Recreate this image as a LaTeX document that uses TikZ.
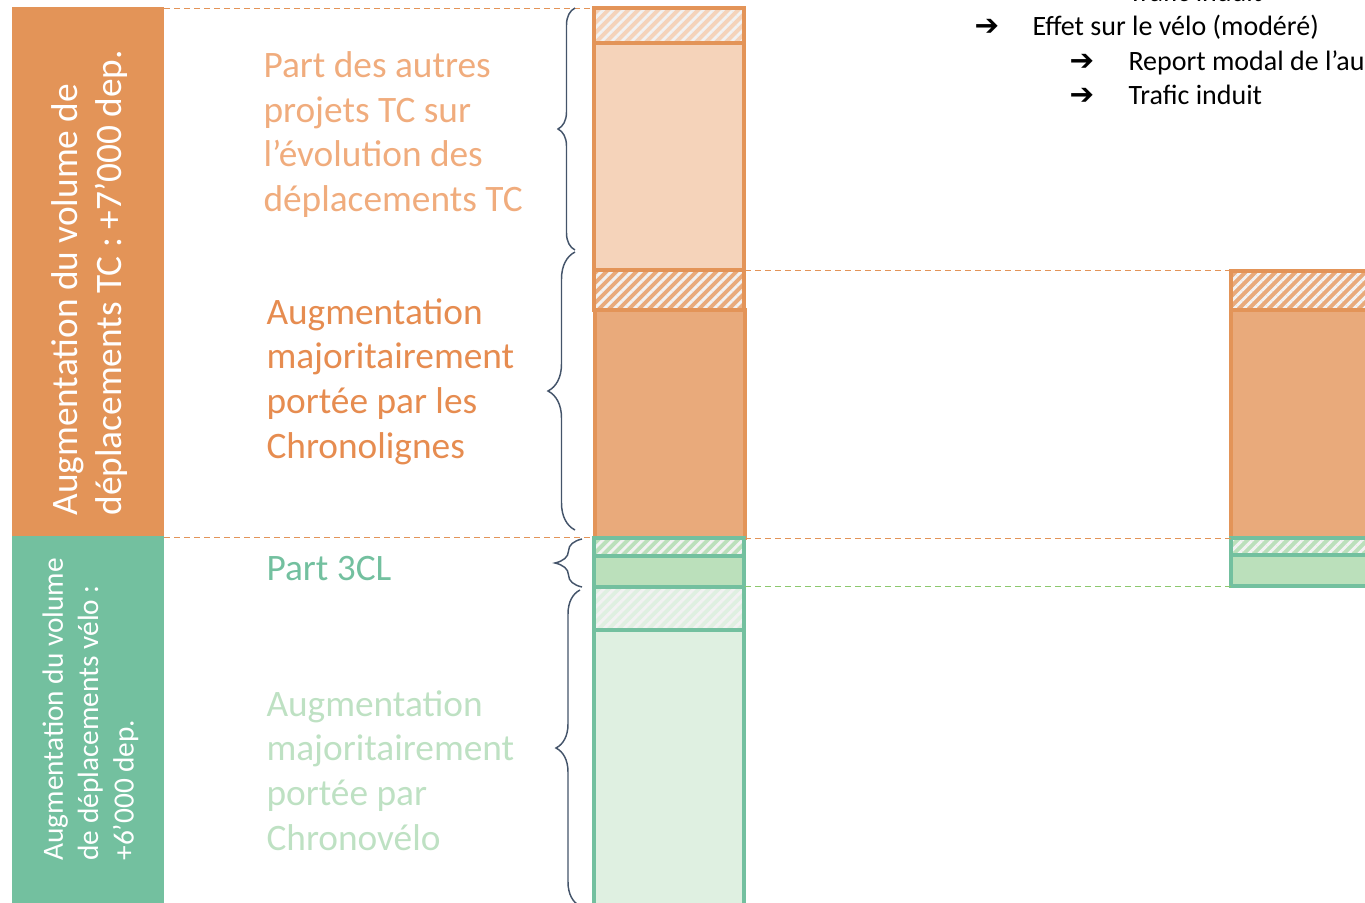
\documentclass[tikz,border=0pt]{standalone}
\usepackage{fontspec}
\setmainfont{Carlito}
\newfontfamily\arrowfont{DejaVu Sans Bold}
\usetikzlibrary{patterns.meta,decorations.pathreplacing}

\definecolor{tcdark}{RGB}{227,148,88}
\definecolor{tcmid}{RGB}{233,170,123}
\definecolor{tcpale}{RGB}{245,211,186}
\definecolor{tctext}{RGB}{230,140,80}
\definecolor{tcpaletext}{RGB}{240,172,125}
\definecolor{velodark}{RGB}{115,192,159}
\definecolor{velomid}{RGB}{187,224,187}
\definecolor{velopale}{RGB}{223,240,225}
\definecolor{velopaletext}{RGB}{190,225,195}
\definecolor{velodash}{RGB}{140,200,110}
\definecolor{bracecol}{RGB}{68,84,106}
\definecolor{stripe}{RGB}{242,242,242}

\tikzset{every picture/.style={line width=0.75pt}}
\tikzset{
  tcbar/.style={draw=tcdark, line width=2.3pt},
  velobar/.style={draw=velodark, line width=2.3pt},
  hatch/.style={pattern={Lines[angle=45,distance=5.3pt,line width=2.2pt]}, pattern color=stripe},
  tcdash/.style={draw=tcdark, dash pattern=on 4.5pt off 3pt},
  velodash/.style={draw=velodash, dash pattern=on 4.5pt off 3pt},
  bracemark/.style={draw=bracecol, line width=1.1pt, decorate},
  sidelabel/.style={anchor=north west, inner sep=0pt, align=left, rotate=90, text=white},
  midlabel/.style={anchor=north west, inner sep=0pt, align=left},
  notelabel/.style={anchor=base west, inner sep=0pt}
}

\begin{document}
\begin{tikzpicture}[x=0.75pt,y=0.75pt,yscale=-1,xscale=1]
	\useasboundingbox (0,0) rectangle (1365,903);
	
	%Shape: Rectangle [side panels]
	\fill [tcdark] (12,7) rectangle (164,536);
	\fill [velodark] (12,536) rectangle (164,910);
	
	%Shape: Rectangle [bar left]
	\draw [tcbar, preaction={fill=tcpale}, hatch] (594,8) rectangle (744,43);
	\draw [tcbar, fill=tcpale] (594,43) rectangle (744,270);
	\draw [tcbar, preaction={fill=tcmid}, hatch] (594,270) rectangle (744,310);
	\draw [tcbar, fill=tcmid] (595,310) rectangle (745,538);
	\draw [velobar, preaction={fill=velomid}, hatch] (594,538) rectangle (744,556);
	\draw [velobar, fill=velomid] (594,556) rectangle (744,587);
	\draw [velobar, preaction={fill=velopale}, hatch] (594,587) rectangle (744,630);
	\draw [velobar, fill=velopale] (594,630) rectangle (744,910);
	
	%Shape: Rectangle [bar right]
	\draw [tcbar, preaction={fill=tcmid}, hatch] (1231,271) rectangle (1372,310);
	\draw [tcbar, fill=tcmid] (1231,310) rectangle (1372,538);
	\draw [velobar, preaction={fill=velomid}, hatch] (1231,538) rectangle (1372,555);
	\draw [velobar, fill=velomid] (1231,555) rectangle (1372,586);
	
	% Coordinates for the dashed guides
	\coordinate (panelTop) at (164,8);
	\coordinate (barTop) at (594,8);
	\coordinate (panelMid) at (164,537);
	\coordinate (barMidL) at (594,537);
	\coordinate (tcL) at (745,270);
	\coordinate (tcR) at (1231,270);
	\coordinate (baseL) at (745,538);
	\coordinate (baseR) at (1231,538);
	\coordinate (veloL) at (745,586);
	\coordinate (veloR) at (1231,586);
	
	%Straight Lines [dashed guides]
	\draw [tcdash] (panelTop) -- (barTop);
	\draw [tcdash] (panelMid) -- (barMidL);
	\draw [tcdash] (tcL) -- (tcR);
	\draw [tcdash] (baseL) -- (baseR);
	\draw [velodash] (veloL) -- (veloR);
	
	%Braces
	\draw [bracemark, decoration={brace, amplitude=12.75pt}] (575,250) -- (575,8);
	\draw [bracemark, decoration={brace, amplitude=20.25pt}] (575,530) -- (575,252);
	\draw [bracemark, decoration={brace, amplitude=20.25pt}] (582,587) -- (582,539);
	\draw [bracemark, decoration={brace, amplitude=18pt}] (580,906) -- (580,590);
	
	% Text Node
	\node (tcside) [sidelabel, font=\fontsize{28}{33}\selectfont] at (51,516) {Augmentation du volume de\\déplacements TC : +7’000 dep.};
	% Text Node
	\node (veloside) [sidelabel, font=\fontsize{22}{26.5}\selectfont] at (42,861) {Augmentation du volume\\de déplacements vélo :\\+6’000 dep.};
	% Text Node
	\node (autres) [midlabel, text=tcpaletext, font=\fontsize{28}{33.5}\selectfont] at (263,51) {Part des autres\\projets TC sur\\l’évolution des\\déplacements TC};
	% Text Node
	\node (chrono) [midlabel, text=tctext, font=\fontsize{28}{33.5}\selectfont] at (266,298) {Augmentation\\majoritairement\\portée par les\\Chronolignes};
	% Text Node
	\node (part3cl) [midlabel, text=velodark, font=\fontsize{28}{33.5}\selectfont] at (266,556) {Part 3CL};
	% Text Node
	\node (chronovelo) [midlabel, text=velopaletext, font=\fontsize{28}{33.5}\selectfont] at (266,690) {Augmentation\\majoritairement\\portée par\\Chronovélo};
	
	% Text Node [notes top right]
	\node (arrowA) [notelabel, font=\fontsize{22}{25}\arrowfont] at (1070,2) {➔};
	\node (noteA) [notelabel, font=\fontsize{21}{25}\selectfont] at (1128,2) {Trafic induit};
	\node (arrowB) [notelabel, font=\fontsize{22}{25}\arrowfont] at (974,36) {➔};
	\node (noteB) [notelabel, font=\fontsize{21}{25}\selectfont] at (1032,36) {Effet sur le vélo (modéré)};
	\node (arrowC) [notelabel, font=\fontsize{22}{25}\arrowfont] at (1069,70) {➔};
	\node (noteC) [notelabel, font=\fontsize{21}{25}\selectfont] at (1128,70) {Report modal de l’au};
	\node (arrowD) [notelabel, font=\fontsize{22}{25}\arrowfont] at (1069,104) {➔};
	\node (noteD) [notelabel, font=\fontsize{21}{25}\selectfont] at (1128,104) {Trafic induit};
	
\end{tikzpicture}
\end{document}
